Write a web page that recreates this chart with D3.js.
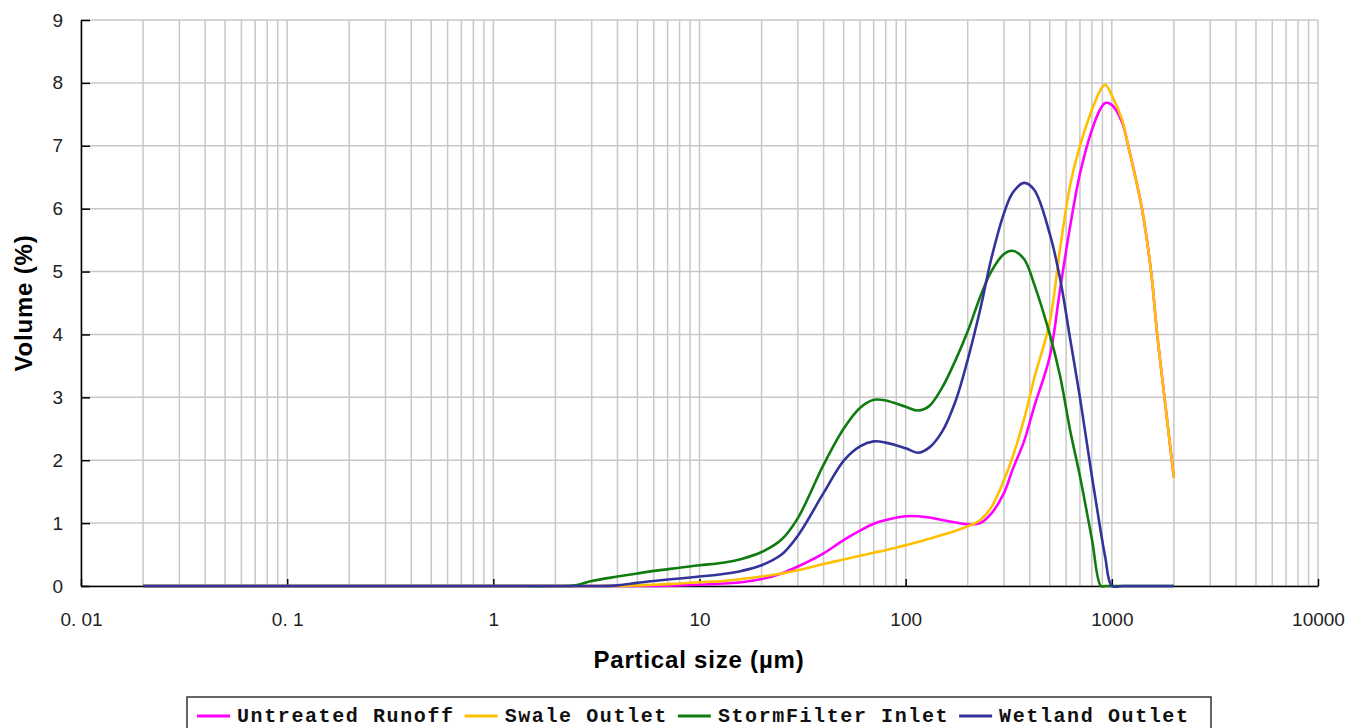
<!DOCTYPE html>
<meta charset="utf-8">
<style>
body{margin:0;background:#fff;}
.grid line{stroke:#c8c8c8;stroke-width:1.5px;}
.axis path,.axis line{stroke:#000;stroke-width:1.5px;}
.axis text{font-family:"Liberation Sans",Arial,sans-serif;font-size:19px;fill:#222;}
.title{font-family:"Liberation Sans",Arial,sans-serif;font-size:24px;font-weight:bold;fill:#000;letter-spacing:0.8px;}
.series{fill:none;stroke-width:2.6px;}
.legend text{font-family:"Liberation Mono",monospace;font-size:20px;font-weight:bold;fill:#111;letter-spacing:1.6px;}
</style>
<body>
<script src="https://d3js.org/d3.v7.min.js"></script>
<script>

// particle size (um) for every reading
var sizes=[0.02,1,2,2.5,3,4,5,6,8,10,13,16,20,25,30,40,50,60,70,80,100,115,130,150,175,200,230,260,300,330,375,420,500,560,630,700,800,885,930,1000,1120,1200,1400,1550,1660,1800,2000];

var untreated=[0,0,0,0,0,0,0,0,0.01,0.02,0.04,0.06,0.11,0.2,0.31,0.52,0.73,0.88,0.99,1.05,1.11,1.11,1.09,1.05,1.01,0.98,1.0,1.15,1.48,1.85,2.3,2.85,3.65,4.7,5.75,6.55,7.25,7.6,7.68,7.65,7.38,7.0,6.0,5.0,4.0,3.0,1.72];
var swale=[0,0,0,0,0,0,0.01,0.02,0.04,0.06,0.08,0.11,0.15,0.2,0.25,0.35,0.42,0.48,0.53,0.57,0.65,0.7,0.75,0.81,0.88,0.95,1.05,1.25,1.69,2.05,2.65,3.3,4.2,5.35,6.4,7.0,7.57,7.9,7.97,7.8,7.42,7.0,6.0,5.0,4.0,3.0,1.72];
var stormFilter=[0,0,0,0.01,0.08,0.15,0.2,0.24,0.29,0.33,0.37,0.43,0.54,0.74,1.08,1.93,2.5,2.83,2.96,2.95,2.85,2.79,2.86,3.15,3.6,4.05,4.6,5.0,5.28,5.33,5.2,4.8,4.0,3.35,2.45,1.75,0.75,0,0,0,0,0,0,0,0,0,0];
var wetland=[0,0,0,0,0,0.01,0.05,0.08,0.12,0.15,0.19,0.24,0.33,0.5,0.8,1.48,1.99,2.22,2.3,2.28,2.19,2.12,2.2,2.45,2.95,3.6,4.4,5.2,5.93,6.25,6.41,6.3,5.6,4.9,3.9,3.0,1.75,0.85,0.45,0,0,0,0,0,0,0,0];

var seriesNames=["Untreated Runoff","Swale Outlet","StormFilter Inlet","Wetland Outlet"];
var seriesValues=[untreated,swale,stormFilter,wetland];
var seriesColors=["#ff00ff","#ffc000","#107c10","#33339a"];

var xTicks=[0.01,0.1,1,10,100,1000,10000];
var xTickLabels=["0. 01","0. 1","1","10","100","1000","10000"];
var yTicks=[0,1,2,3,4,5,6,7,8,9];

var W=1349,H=728;
var x=d3.scaleLog().domain([0.01,10000]).range([81,1318]);
var y=d3.scaleLinear().domain([0,9]).range([586,20]);

var svg=d3.select("body").append("svg").attr("width",W).attr("height",H);

// minor + major grid
var vgrid=[];
for(var e=-2;e<4;e++){for(var k=1;k<10;k++){vgrid.push(k*Math.pow(10,e));}}
vgrid.push(10000);
var grid=svg.append("g").attr("class","grid");
grid.selectAll(".v").data(vgrid).join("line").attr("class","v")
	.attr("x1",d=>x(d)).attr("x2",d=>x(d)).attr("y1",y(9)).attr("y2",y(0));
grid.selectAll(".h").data(yTicks).join("line").attr("class","h")
	.attr("x1",x(0.01)).attr("x2",x(10000)).attr("y1",d=>y(d)).attr("y2",d=>y(d));

// axes
svg.append("g").attr("class","axis").attr("transform","translate(0,"+y(0)+")")
	.call(d3.axisBottom(x).tickValues(xTicks).tickSize(-7).tickSizeOuter(0).tickPadding(27)
		.tickFormat((d,i)=>xTickLabels[i]));
svg.append("g").attr("class","axis").attr("transform","translate("+x(0.01)+",0)")
	.call(d3.axisLeft(y).tickValues(yTicks).tickSize(-9).tickSizeOuter(0).tickPadding(18)
		.tickFormat(d3.format("d")));

// curves (smoothed like the spreadsheet lines)
var line=d3.line().x(d=>x(d[0])).y(d=>y(d[1])).curve(d3.curveCatmullRom.alpha(0.5));
seriesValues.forEach(function(vals,i){
	svg.append("path").attr("class","series")
		.attr("stroke",seriesColors[i])
		.attr("d",line(sizes.map((s,j)=>[s,vals[j]])));
});

// titles
svg.append("text").attr("class","title").attr("text-anchor","middle")
	.attr("transform","translate(32,303) rotate(-90)").text("Volume (%)");
svg.append("text").attr("class","title").attr("text-anchor","middle")
	.attr("x",699).attr("y",668).text("Partical size (µm)");

// legend
var lg=svg.append("g").attr("class","legend");
lg.append("rect").attr("x",187).attr("y",697).attr("width",1024).attr("height",45)
	.attr("fill","#fff").attr("stroke","#333").attr("stroke-width",1.5);
var lx=197;
seriesNames.forEach(function(n,i){
	lg.append("line").attr("x1",lx).attr("x2",lx+33).attr("y1",716).attr("y2",716)
		.attr("stroke",seriesColors[i]).attr("stroke-width",3);
	var t=lg.append("text").attr("x",lx+40).attr("y",722).text(n);
	lx+=40+t.node().getComputedTextLength()+10;
});
</script>
</body>
